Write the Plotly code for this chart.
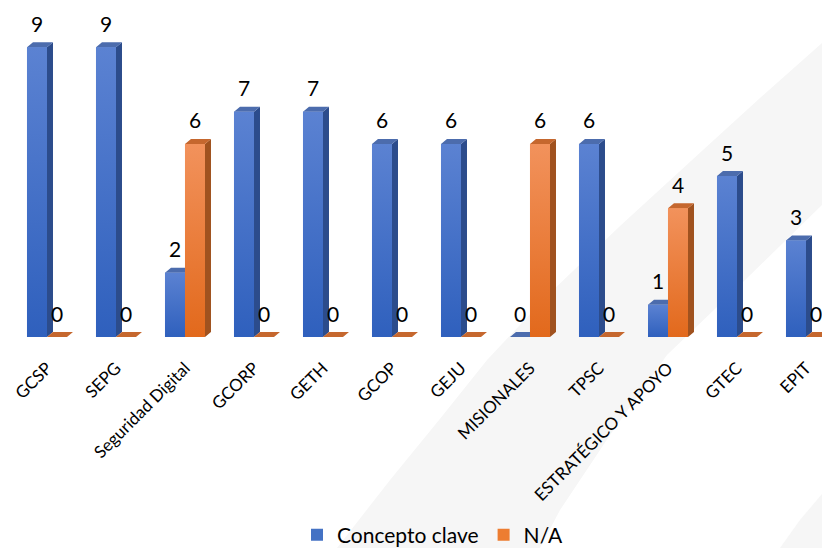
import plotly.graph_objects as go

# --- data ---------------------------------------------------------------
categories = ["GCSP", "SEPG", "Seguridad Digital", "GCORP", "GETH", "GCOP",
              "GEJU", "MISIONALES", "TPSC", "ESTRATÉGICO Y APOYO", "GTEC", "EPIT"]
concepto_clave = [9, 9, 2, 7, 7, 6, 6, 0, 6, 1, 5, 3]
no_aplica = [0, 0, 6, 0, 0, 0, 0, 6, 0, 4, 0, 0]

# --- geometry / style ----------------------------------------------------
W, H = 822, 548
BOTTOM = 211                     # bottom margin (room for labels + legend)
PLOT_H = H - BOTTOM
X_RANGE = [-0.681, 11.232]
Y_RANGE = [0, 10.47]
PX_X = W / (X_RANGE[1] - X_RANGE[0])
PX_Y = PLOT_H / (Y_RANGE[1] - Y_RANGE[0])

BW = 20 / PX_X                   # bar front width (axis units)
DX = 6 / PX_X                    # depth offset, horizontal
DY = 5 / PX_Y                    # depth offset, vertical

FONT = "Lato"

series = [
    dict(name="Concepto clave", values=concepto_clave, offset=-BW,
         front=["#2f60bd", "#5b82d2"], side="#2c4c8c", top="#4c6cad", legend="#4472c4"),
    dict(name="N/A", values=no_aplica, offset=0.0,
         front=["#e2691c", "#f2925c"], side="#a0521f", top="#c5672e", legend="#ed7d31"),
]

fig = go.Figure()

# Plain bars: carry legend entries and hover, covered by the shaded faces
for s in series:
    fig.add_trace(go.Bar(
        x=list(range(len(categories))), y=s["values"], name=s["name"],
        width=BW, offset=s["offset"], marker=dict(color=s["legend"], line=dict(width=0)),
        customdata=categories,
        hovertemplate="%{customdata}<br>" + s["name"] + ": %{y}<extra></extra>",
    ))


def poly(pts):
    xs = [p[0] for p in pts] + [pts[0][0]]
    ys = [p[1] for p in pts] + [pts[0][1]]
    return xs, ys


# Pseudo-3D faces: side, top and shaded front of every bar
for s in series:
    side_x, side_y, top_x, top_y = [], [], [], []
    fronts = []
    for i, v in enumerate(s["values"]):
        x0 = i + s["offset"]
        x1 = x0 + BW
        tx, ty = poly([(x0, v), (x1, v), (x1 + DX, v + DY), (x0 + DX, v + DY)])
        top_x += tx + [None]
        top_y += ty + [None]
        if v > 0:
            sx, sy = poly([(x1, 0), (x1 + DX, DY), (x1 + DX, v + DY), (x1, v)])
            side_x += sx + [None]
            side_y += sy + [None]
            fronts.append(poly([(x0, 0), (x1, 0), (x1, v), (x0, v)]))
    if side_x:
        fig.add_trace(go.Scatter(x=side_x, y=side_y, mode="lines", fill="toself",
                                 fillcolor=s["side"], line=dict(width=0),
                                 hoverinfo="skip", showlegend=False))
    fig.add_trace(go.Scatter(x=top_x, y=top_y, mode="lines", fill="toself",
                             fillcolor=s["top"], line=dict(width=0),
                             hoverinfo="skip", showlegend=False))
    for fx, fy in fronts:
        fig.add_trace(go.Scatter(
            x=fx, y=fy, mode="lines", fill="toself", line=dict(width=0),
            fillgradient=dict(type="vertical",
                              colorscale=[[0, s["front"][0]], [1, s["front"][1]]]),
            hoverinfo="skip", showlegend=False))

# Value labels above each bar
for s in series:
    for i, v in enumerate(s["values"]):
        fig.add_annotation(x=i + s["offset"] + BW / 2, y=v, text=str(v),
                           showarrow=False, yshift=24, xref="x", yref="y",
                           font=dict(family=FONT, size=21, color="#000000"))


# Faint watermark band in the background (pixel points -> paper coords)
def to_paper(px, py):
    return px / W, (PLOT_H - py) / PLOT_H


def path(points):
    pp = [to_paper(*p) for p in points]
    return "M " + " L ".join(f"{x:.4f},{y:.4f}" for x, y in pp) + " Z"


band = [(822, 43), (760, 98), (703, 150), (620, 226), (550, 293), (487, 360),
        (439, 420), (390, 480), (337, 548),
        (540, 548), (560, 510), (610, 435), (667, 355), (740, 285), (822, 205)]
corner = [(780, 548), (800, 520), (822, 494), (822, 548)]
for pts in (band, corner):
    fig.add_shape(type="path", path=path(pts), xref="paper", yref="paper",
                  fillcolor="#f6f6f6", line=dict(width=0), layer="below")

fig.update_layout(
    width=W, height=H,
    margin=dict(l=0, r=0, t=0, b=BOTTOM, pad=0, autoexpand=False),
    paper_bgcolor="#ffffff", plot_bgcolor="rgba(0,0,0,0)",
    barmode="overlay",
    showlegend=True,
    legend=dict(orientation="h", x=297 / W, xanchor="left",
                yref="container", y=(H - 535) / H, yanchor="middle",
                font=dict(family=FONT, size=21, color="#000000"),
                bgcolor="rgba(0,0,0,0)", traceorder="normal"),
    xaxis=dict(range=X_RANGE, tickmode="array", tickvals=list(range(len(categories))),
               ticktext=categories, tickangle=-45, showgrid=False, zeroline=False,
               showline=False, ticks="", automargin=False, ticklabelstandoff=17,
               tickfont=dict(family=FONT, size=17, color="#000000")),
    yaxis=dict(range=Y_RANGE, visible=False, showgrid=False, zeroline=False),
    font=dict(family=FONT),
)

fig.write_html("out.html")
